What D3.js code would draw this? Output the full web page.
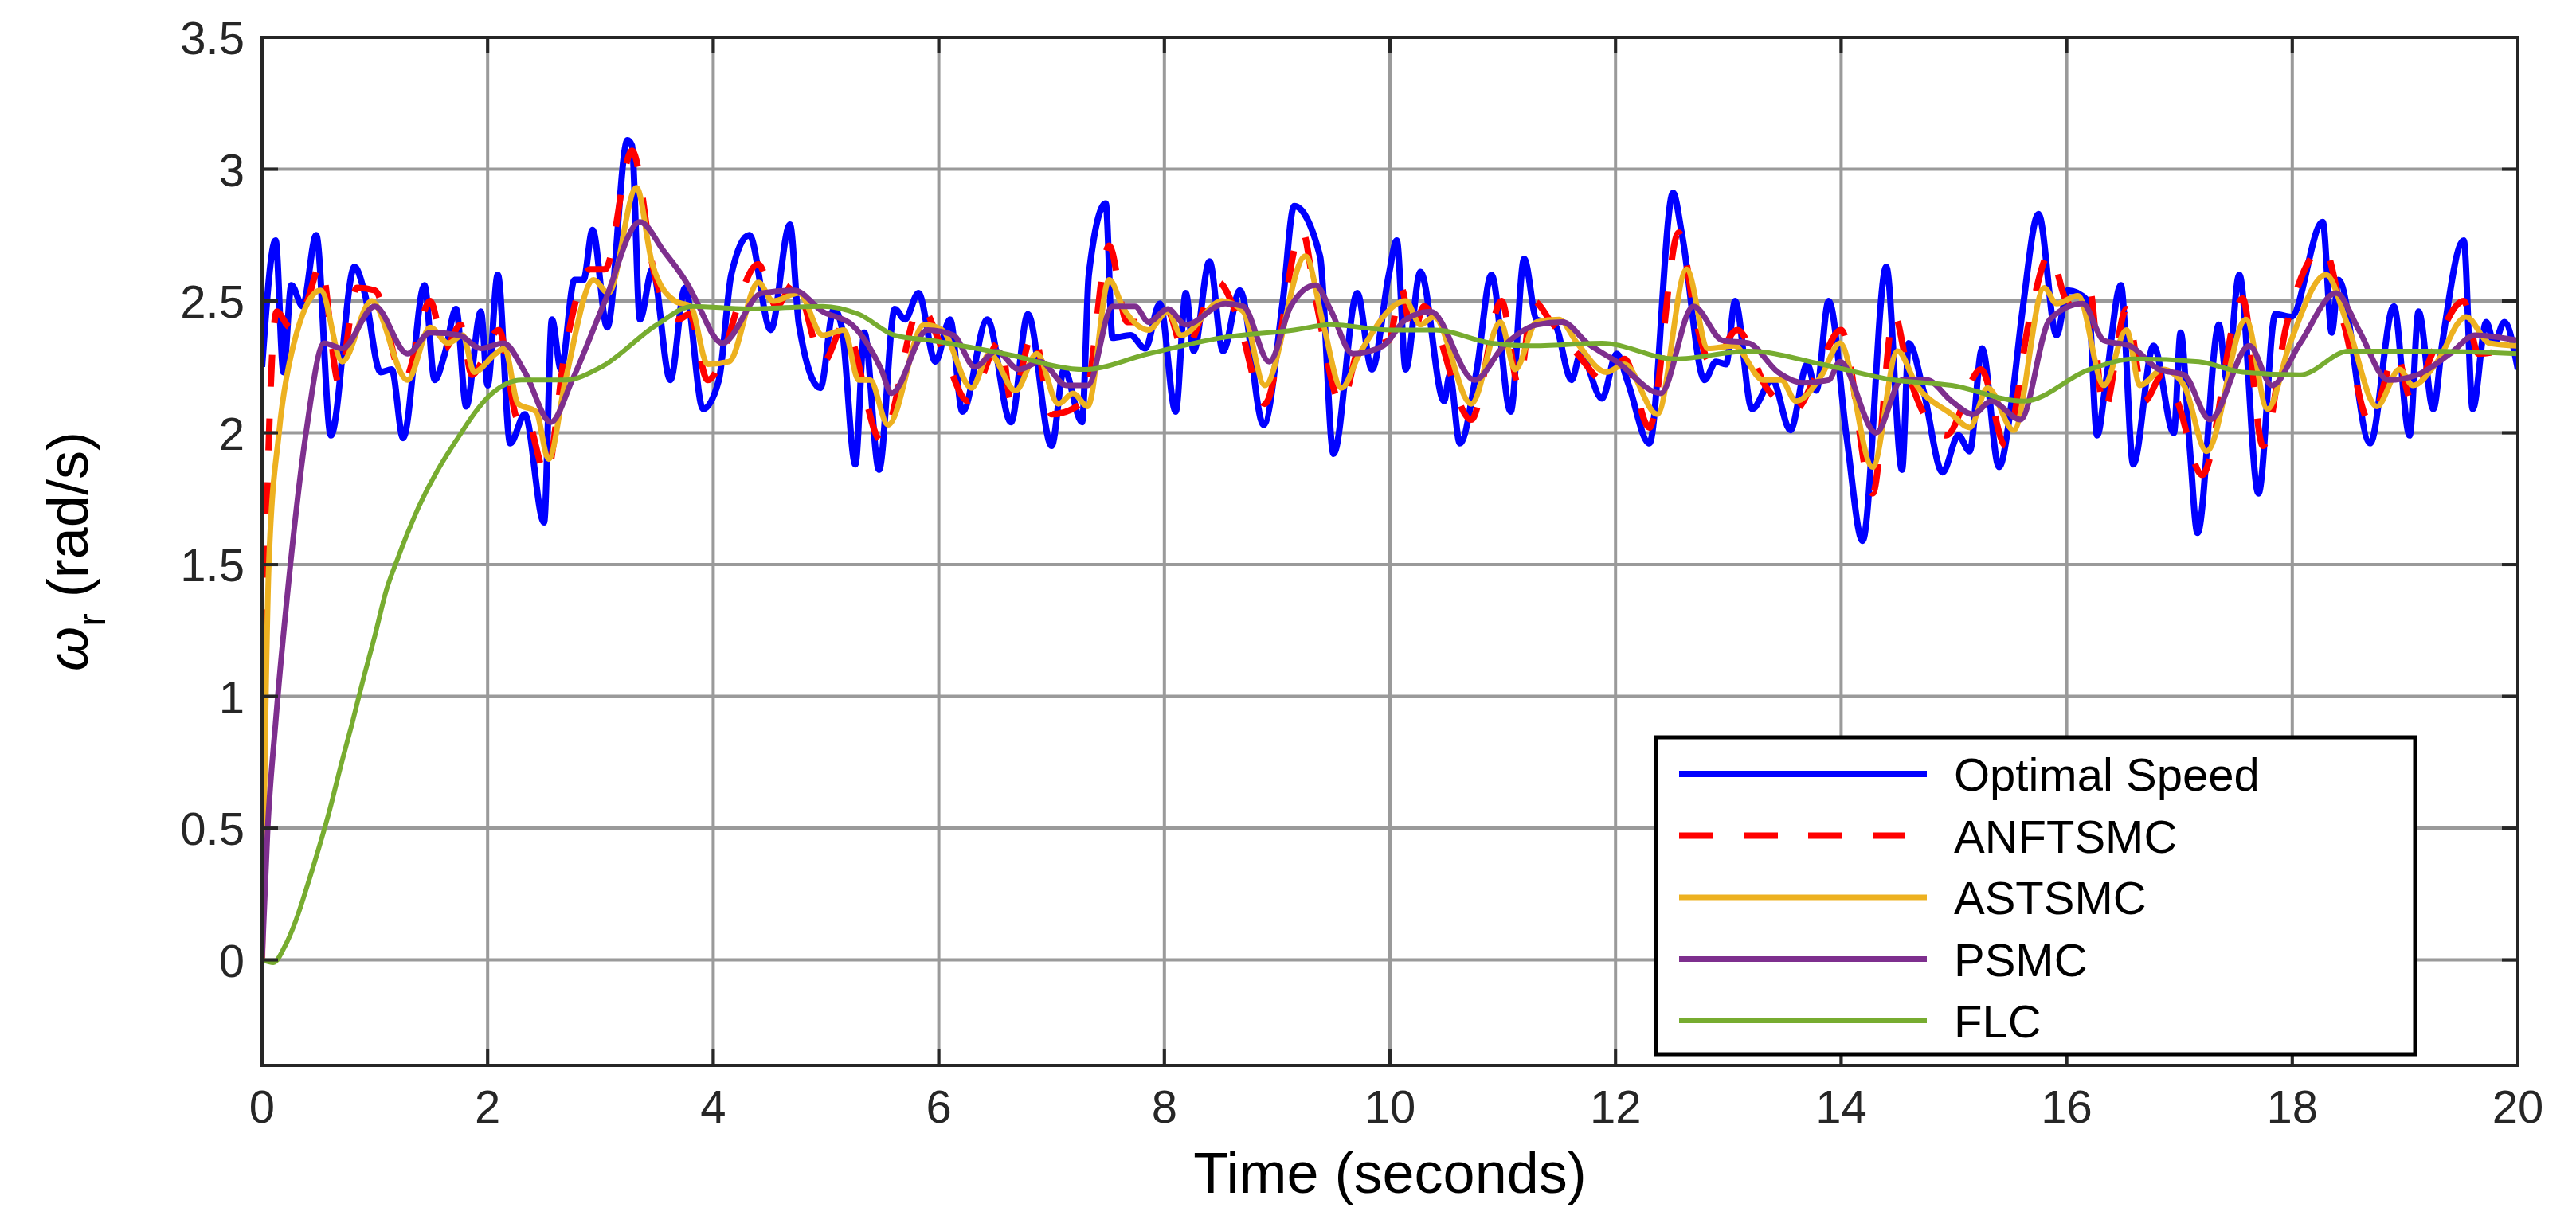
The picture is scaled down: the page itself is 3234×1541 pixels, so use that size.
<!DOCTYPE html>
<html>
<head>
<meta charset="utf-8">
<script src="https://cdn.jsdelivr.net/npm/d3@7"></script>
<style>
  body { margin: 0; background: #fff; }
  text { font-family: "Liberation Sans", Arial, sans-serif; fill: #262626; }
</style>
</head>
<body>
<script>
// values, [time (s), speed (rad/s)]
var optimalSpeed = [[0,2.25],[.12,2.73],[.19,2.23],[.26,2.56],[.36,2.48],[.48,2.75],[.61,1.99],[.82,2.63],[.91,2.53],[1.05,2.23],[1.15,2.24],[1.25,1.98],[1.44,2.56],[1.53,2.2],[1.62,2.3],[1.72,2.47],[1.81,2.1],[1.94,2.46],[2.0,2.18],[2.09,2.6],[2.2,1.96],[2.33,2.07],[2.5,1.66],[2.57,2.43],[2.65,2.24],[2.77,2.58],[2.85,2.58],[2.93,2.77],[3.06,2.4],[3.24,3.11],[3.28,3.09],[3.35,2.43],[3.46,2.62],[3.62,2.2],[3.75,2.55],[3.91,2.09],[4.05,2.2],[4.16,2.6],[4.32,2.75],[4.51,2.39],[4.68,2.79],[4.76,2.41],[4.95,2.17],[5.07,2.47],[5.14,2.4],[5.26,1.88],[5.34,2.38],[5.47,1.86],[5.61,2.47],[5.7,2.43],[5.82,2.53],[5.97,2.27],[6.1,2.43],[6.21,2.08],[6.43,2.43],[6.64,2.04],[6.79,2.45],[7.0,1.95],[7.11,2.24],[7.27,2.04],[7.33,2.6],[7.48,2.87],[7.54,2.36],[7.7,2.37],[7.83,2.32],[7.96,2.49],[8.1,2.08],[8.19,2.53],[8.26,2.31],[8.4,2.65],[8.52,2.31],[8.67,2.54],[8.88,2.03],[9.05,2.5],[9.15,2.86],[9.38,2.67],[9.5,1.92],[9.71,2.53],[9.84,2.24],[9.99,2.6],[10.06,2.73],[10.14,2.24],[10.27,2.61],[10.48,2.12],[10.53,2.22],[10.62,1.96],[10.77,2.24],[10.9,2.6],[11.07,2.08],[11.19,2.66],[11.3,2.43],[11.46,2.41],[11.61,2.2],[11.69,2.3],[11.88,2.13],[12.01,2.3],[12.11,2.19],[12.3,1.96],[12.51,2.91],[12.59,2.75],[12.79,2.2],[12.89,2.27],[12.98,2.26],[13.06,2.5],[13.21,2.09],[13.39,2.2],[13.55,2.01],[13.7,2.26],[13.78,2.16],[13.89,2.5],[14.05,1.98],[14.19,1.59],[14.4,2.63],[14.54,1.86],[14.6,2.34],[14.73,2.16],[14.9,1.85],[15.04,1.99],[15.14,1.93],[15.25,2.32],[15.4,1.87],[15.51,2.11],[15.61,2.47],[15.75,2.83],[15.91,2.37],[16.01,2.54],[16.19,2.5],[16.27,1.99],[16.35,2.2],[16.48,2.56],[16.59,1.88],[16.77,2.33],[16.95,2.0],[17.01,2.38],[17.09,1.95],[17.16,1.62],[17.35,2.41],[17.42,2.2],[17.53,2.6],[17.7,1.77],[17.85,2.45],[17.99,2.44],[18.27,2.8],[18.35,2.38],[18.41,2.58],[18.69,1.96],[18.9,2.48],[19.04,1.99],[19.12,2.46],[19.25,2.09],[19.33,2.34],[19.52,2.73],[19.6,2.09],[19.72,2.42],[19.79,2.34],[19.88,2.42],[20,2.24]]

var anftsmc = [[0,0],[.03,1.3],[.07,2.1],[.13,2.46],[.25,2.4],[.4,2.5],[.52,2.64],[.68,2.19],[.84,2.55],[1.0,2.54],[1.26,2.2],[1.49,2.5],[1.62,2.32],[1.76,2.41],[1.86,2.22],[2.1,2.39],[2.27,2.05],[2.33,2.07],[2.52,1.84],[2.69,2.32],[2.91,2.62],[3.04,2.62],[3.28,3.07],[3.48,2.6],[3.69,2.43],[3.79,2.45],[3.95,2.2],[4.4,2.64],[4.56,2.48],[4.72,2.57],[4.98,2.27],[5.16,2.41],[5.49,1.97],[5.84,2.48],[6.03,2.32],[6.26,2.12],[6.55,2.35],[6.64,2.12],[6.84,2.38],[7.0,2.07],[7.29,2.12],[7.51,2.71],[7.67,2.42],[7.93,2.42],[8.03,2.46],[8.17,2.31],[8.48,2.57],[8.64,2.45],[8.89,2.11],[9.22,2.77],[9.34,2.51],[9.57,2.11],[9.73,2.32],[9.99,2.35],[10.1,2.55],[10.2,2.36],[10.3,2.48],[10.72,2.05],[10.99,2.5],[11.14,2.18],[11.27,2.5],[11.43,2.42],[11.66,2.3],[11.92,2.19],[12.08,2.28],[12.3,2.02],[12.56,2.76],[12.72,2.41],[12.85,2.26],[13.08,2.39],[13.34,2.17],[13.6,2.09],[13.76,2.2],[14.0,2.39],[14.28,1.77],[14.47,2.45],[14.6,2.22],[14.93,1.99],[15.24,2.24],[15.46,1.95],[15.67,2.43],[15.85,2.68],[16.01,2.5],[16.2,2.55],[16.33,2.08],[16.53,2.47],[16.69,2.12],[16.85,2.22],[16.98,2.12],[17.2,1.84],[17.56,2.51],[17.74,1.95],[17.95,2.41],[18.28,2.7],[18.46,2.41],[18.69,2.04],[18.92,2.3],[19.06,2.12],[19.24,2.3],[19.52,2.5],[19.65,2.3],[20,2.33]]

var astsmc = [[0,0],[.03,.9],[.06,1.5],[.15,2.0],[.26,2.3],[.52,2.54],[.71,2.27],[.97,2.5],[1.29,2.2],[1.49,2.4],[1.65,2.34],[1.78,2.37],[1.88,2.23],[2.07,2.3],[2.15,2.32],[2.27,2.11],[2.43,2.08],[2.54,1.9],[2.69,2.2],[2.94,2.58],[3.07,2.53],[3.32,2.93],[3.46,2.64],[3.66,2.5],[3.8,2.48],[3.95,2.26],[4.14,2.27],[4.4,2.57],[4.53,2.5],[4.76,2.53],[4.97,2.37],[5.16,2.39],[5.29,2.2],[5.39,2.2],[5.55,2.03],[5.87,2.41],[6.03,2.39],[6.29,2.17],[6.45,2.3],[6.68,2.16],[6.87,2.3],[7.06,2.11],[7.19,2.15],[7.32,2.1],[7.51,2.58],[7.64,2.47],[7.86,2.39],[8.03,2.46],[8.15,2.37],[8.51,2.5],[8.7,2.46],[8.89,2.18],[9.25,2.67],[9.41,2.41],[9.57,2.17],[9.73,2.3],[10.14,2.5],[10.27,2.41],[10.39,2.44],[10.72,2.11],[10.98,2.42],[11.11,2.24],[11.3,2.42],[11.5,2.43],[11.66,2.34],[11.92,2.23],[12.08,2.26],[12.37,2.07],[12.63,2.62],[12.82,2.32],[13.05,2.33],[13.31,2.2],[13.47,2.2],[13.6,2.12],[13.83,2.22],[13.99,2.34],[14.28,1.87],[14.5,2.31],[14.67,2.18],[14.98,2.07],[15.14,2.02],[15.3,2.17],[15.53,2.01],[15.8,2.55],[15.91,2.49],[16.1,2.52],[16.33,2.18],[16.53,2.39],[16.65,2.18],[16.85,2.24],[17.04,2.18],[17.24,1.93],[17.59,2.43],[17.78,2.09],[17.98,2.34],[18.3,2.6],[18.49,2.41],[18.75,2.1],[18.95,2.24],[19.07,2.18],[19.27,2.26],[19.54,2.44],[19.75,2.34],[20,2.33]]

var psmc = [[0,0],[.05,.5],[.12,.9],[.23,1.41],[.39,2.0],[.55,2.34],[.71,2.32],[1.0,2.48],[1.29,2.3],[1.49,2.38],[1.75,2.37],[1.94,2.32],[2.14,2.34],[2.33,2.23],[2.56,2.04],[2.75,2.2],[3.04,2.5],[3.35,2.8],[3.56,2.69],[3.79,2.55],[3.85,2.5],[4.08,2.34],[4.43,2.53],[4.72,2.54],[4.97,2.46],[5.23,2.41],[5.49,2.24],[5.58,2.15],[5.9,2.39],[6.13,2.37],[6.32,2.25],[6.51,2.31],[6.71,2.24],[6.9,2.27],[7.13,2.18],[7.32,2.18],[7.54,2.48],[7.74,2.48],[7.86,2.42],[8.03,2.47],[8.19,2.41],[8.54,2.49],[8.7,2.48],[8.93,2.27],[9.12,2.48],[9.34,2.56],[9.47,2.47],[9.67,2.3],[9.94,2.33],[10.14,2.43],[10.36,2.46],[10.75,2.2],[11.01,2.33],[11.3,2.41],[11.53,2.42],[11.75,2.34],[12.01,2.27],[12.4,2.15],[12.69,2.48],[12.95,2.35],[13.18,2.34],[13.44,2.23],[13.66,2.19],[13.89,2.2],[13.99,2.27],[14.31,2.0],[14.54,2.2],[14.76,2.2],[14.98,2.12],[15.17,2.07],[15.33,2.12],[15.59,2.05],[15.85,2.43],[16.14,2.49],[16.33,2.35],[16.56,2.33],[16.82,2.24],[17.04,2.22],[17.27,2.05],[17.62,2.33],[17.82,2.18],[18.07,2.34],[18.39,2.53],[18.59,2.39],[18.85,2.2],[19.11,2.22],[19.4,2.3],[19.62,2.37],[20,2.35]]

var flc = [[0,0],[.1,-.01],[.2,.05],[.3,.15],[.4,.28],[.5,.42],[.6,.57],[.7,.74],[.8,.9],[.9,1.07],[1.0,1.23],[1.1,1.4],[1.2,1.52],[1.39,1.72],[1.72,1.97],[2.04,2.15],[2.3,2.2],[2.69,2.2],[3.01,2.25],[3.5,2.41],[3.82,2.48],[4.3,2.47],[4.97,2.48],[5.29,2.45],[5.61,2.37],[5.94,2.35],[6.58,2.3],[7.29,2.24],[7.86,2.3],[8.5,2.36],[9.15,2.39],[9.47,2.41],[10.01,2.39],[10.4,2.39],[10.9,2.34],[11.24,2.33],[11.88,2.34],[12.53,2.28],[13.18,2.31],[13.83,2.26],[14.47,2.2],[14.98,2.18],[15.62,2.12],[16.2,2.24],[16.6,2.28],[17.17,2.27],[17.56,2.23],[18.07,2.22],[18.5,2.31],[19.2,2.31],[20,2.3]]

var seriesNames = ['Optimal Speed', 'ANFTSMC', 'ASTSMC', 'PSMC', 'FLC']
var seriesData = [optimalSpeed, anftsmc, astsmc, psmc, flc]
var seriesColors = ['#0000ff', '#ff0000', '#edb120', '#7e2f8e', '#77ac30']
var seriesWidths = [8, 8, 7, 7, 6]
var xTicks = [0, 2, 4, 6, 8, 10, 12, 14, 16, 18, 20]
var yTicks = [0, 0.5, 1, 1.5, 2, 2.5, 3, 3.5]

var W = 3234, H = 1541
// plot box (note: "top" is taken by window.top, so prefixed names)
var pLeft = 329, pRight = 3161, pTop = 47, pBottom = 1338

var svg = d3.select('body').append('svg').attr('width', W).attr('height', H)

var x = d3.scaleLinear().domain([0, 20]).range([pLeft, pRight])
var y = d3.scaleLinear().domain([-0.4, 3.5]).range([pBottom, pTop])

// grid
svg.append('g').selectAll('line').data(xTicks.slice(1, -1)).enter().append('line')
  .attr('x1', d => x(d)).attr('x2', d => x(d)).attr('y1', pTop).attr('y2', pBottom)
  .attr('stroke', '#9a9a9a').attr('stroke-width', 4)
svg.append('g').selectAll('line').data(yTicks.slice(0, -1)).enter().append('line')
  .attr('y1', d => y(d)).attr('y2', d => y(d)).attr('x1', pLeft).attr('x2', pRight)
  .attr('stroke', '#9a9a9a').attr('stroke-width', 4)

// lines
svg.append('clipPath').attr('id', 'clip').append('rect')
  .attr('x', pLeft).attr('y', pTop).attr('width', pRight - pLeft).attr('height', pBottom - pTop)

var line = d3.line().x(d => x(d[0])).y(d => y(d[1])).curve(d3.curveMonotoneX)
var plot = svg.append('g').attr('clip-path', 'url(#clip)')
seriesData.forEach(function(data, i) {
  plot.append('path').datum(data).attr('d', line)
    .attr('fill', 'none')
    .attr('stroke', seriesColors[i])
    .attr('stroke-width', seriesWidths[i])
    .attr('stroke-linejoin', 'round')
    .attr('stroke-dasharray', i === 1 ? '40,40' : null)
})

// axes (ticks inward, on all four sides)
var tickLen = 20
var ax = svg.append('g').attr('stroke', '#262626').attr('stroke-width', 4)
xTicks.forEach(function(t) {
  ax.append('line').attr('x1', x(t)).attr('x2', x(t)).attr('y1', pBottom).attr('y2', pBottom - tickLen)
  ax.append('line').attr('x1', x(t)).attr('x2', x(t)).attr('y1', pTop).attr('y2', pTop + tickLen)
})
yTicks.forEach(function(t) {
  ax.append('line').attr('y1', y(t)).attr('y2', y(t)).attr('x1', pLeft).attr('x2', pLeft + tickLen)
  ax.append('line').attr('y1', y(t)).attr('y2', y(t)).attr('x1', pRight).attr('x2', pRight - tickLen)
})
ax.append('rect').attr('x', pLeft).attr('y', pTop).attr('width', pRight - pLeft).attr('height', pBottom - pTop)
  .attr('fill', 'none')

svg.append('g').selectAll('text').data(xTicks).enter().append('text')
  .attr('x', d => x(d)).attr('y', 1410).attr('text-anchor', 'middle')
  .attr('font-size', 58).text(d => d)
svg.append('g').selectAll('text').data(yTicks).enter().append('text')
  .attr('x', pLeft - 22).attr('y', d => y(d) + 21).attr('text-anchor', 'end')
  .attr('font-size', 58).text(d => d)

svg.append('text').attr('x', (pLeft + pRight) / 2).attr('y', 1498).attr('text-anchor', 'middle')
  .attr('font-size', 72).style('fill', '#000').text('Time (seconds)')

var yl = svg.append('text').attr('transform', 'translate(110,' + (pTop + pBottom) / 2 + ') rotate(-90)')
  .attr('text-anchor', 'middle').attr('font-size', 72).style('fill', '#000')
yl.append('tspan').attr('font-style', 'italic').text('ω')
yl.append('tspan').attr('font-size', 50).attr('dy', 22).text('r')
yl.append('tspan').attr('dy', -22).text(' (rad/s)')

// legend
var lg = svg.append('g')
lg.append('rect').attr('x', 2079).attr('y', 926).attr('width', 3032 - 2079).attr('height', 1324 - 926)
  .attr('fill', '#fff').attr('stroke', '#000').attr('stroke-width', 5)
seriesNames.forEach(function(name, i) {
  var ly = 972 + i * 77.5
  lg.append('line').attr('x1', 2108).attr('x2', i === 1 ? 2392 : 2419).attr('y1', ly).attr('y2', ly)
    .attr('stroke', seriesColors[i]).attr('stroke-width', seriesWidths[i])
    .attr('stroke-dasharray', i === 1 ? '43,38' : null)
  lg.append('text').attr('x', 2453).attr('y', ly + 21).attr('font-size', 58)
    .style('fill', '#000').text(name)
})
</script>
</body>
</html>
